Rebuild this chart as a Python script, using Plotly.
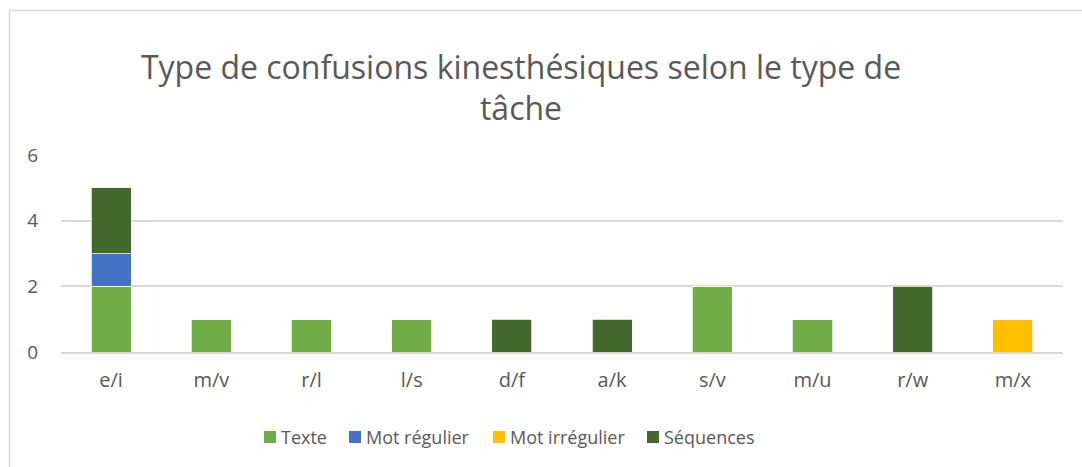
import plotly.graph_objects as go

categories = ["e/i", "m/v", "r/l", "l/s", "d/f", "a/k", "s/v", "m/u", "r/w", "m/x"]
texte = [2, 1, 1, 1, 0, 0, 2, 1, 0, 0]
mot_regulier = [1, 0, 0, 0, 0, 0, 0, 0, 0, 0]
mot_irregulier = [0, 0, 0, 0, 0, 0, 0, 0, 0, 1]
sequences = [2, 0, 0, 0, 1, 1, 0, 0, 2, 0]
y_ticks = [0, 2, 4, 6]

series_names = ["Texte", "Mot régulier", "Mot irrégulier", "Séquences"]
series_values = [texte, mot_regulier, mot_irregulier, sequences]
series_colors = ["#70AD47", "#4472C4", "#FFC000", "#43682B"]

FONT = "Open Sans"
GREY = "#595959"

fig = go.Figure()
for name, vals, color in zip(series_names, series_values, series_colors):
    fig.add_trace(go.Bar(
        x=categories, y=vals, name=name, showlegend=False,
        marker=dict(color=color, line=dict(color="white", width=0.75)),
    ))

W, H = 1082, 467
L, R, T, B = 61, 19, 155, 115
pw, ph = W - L - R, H - T - B

def px_x(x):
    return (x - L) / pw

def px_y(y):
    return (H - B - y) / ph

shapes = [dict(
    type="rect", xref="paper", yref="paper",
    x0=px_x(9.5), x1=px_x(1100), y0=px_y(480), y1=px_y(10.5),
    line=dict(color="#D9D9D9", width=1.5), fillcolor="rgba(0,0,0,0)",
    layer="below",
)]
annotations = []
# custom legend (swatch + label), matching the reference's tight spacing
legend_x = [264, 349, 493, 647]
legend_y = 437
for name, color, lx in zip(series_names, series_colors, legend_x):
    shapes.append(dict(
        type="rect", xref="paper", yref="paper",
        x0=px_x(lx), x1=px_x(lx + 12), y0=px_y(legend_y + 6), y1=px_y(legend_y - 6),
        line=dict(width=0), fillcolor=color,
    ))
    annotations.append(dict(
        text=name, xref="paper", yref="paper", x=px_x(lx + 15), y=px_y(legend_y),
        xanchor="left", yanchor="middle", showarrow=False,
        font=dict(family=FONT, size=18, color=GREY),
    ))

fig.update_layout(
    width=W, height=H,
    barmode="stack", bargap=0.6,
    margin=dict(l=L, r=R, t=T, b=B, pad=0),
    paper_bgcolor="white", plot_bgcolor="white",
    font=dict(family=FONT, color=GREY, size=18),
    showlegend=False,
    title=dict(
        text="Type de confusions kinesthésiques selon le type de<br>tâche",
        x=px_x(521), xref="paper", xanchor="center",
        y=(H - 78.5) / H, yanchor="middle",
        font=dict(family=FONT, size=32, color=GREY),
    ),
    xaxis=dict(
        showgrid=False, showline=True, linecolor="#D9D9D9", linewidth=1.5,
        ticks="", tickfont=dict(size=20, color=GREY), ticklabelstandoff=9,
    ),
    yaxis=dict(
        range=[0, 6], tickvals=y_ticks, showgrid=True, gridcolor="#D9D9D9",
        gridwidth=1.5, zeroline=False, showline=False, ticks="",
        tickfont=dict(size=19, color=GREY), ticklabelstandoff=22,
    ),
    shapes=shapes,
    annotations=annotations,
)

fig.write_html(
    "out.html",
    config={"displayModeBar": False},
    post_script="document.body.style.margin='0';document.body.style.overflow='hidden';",
)
